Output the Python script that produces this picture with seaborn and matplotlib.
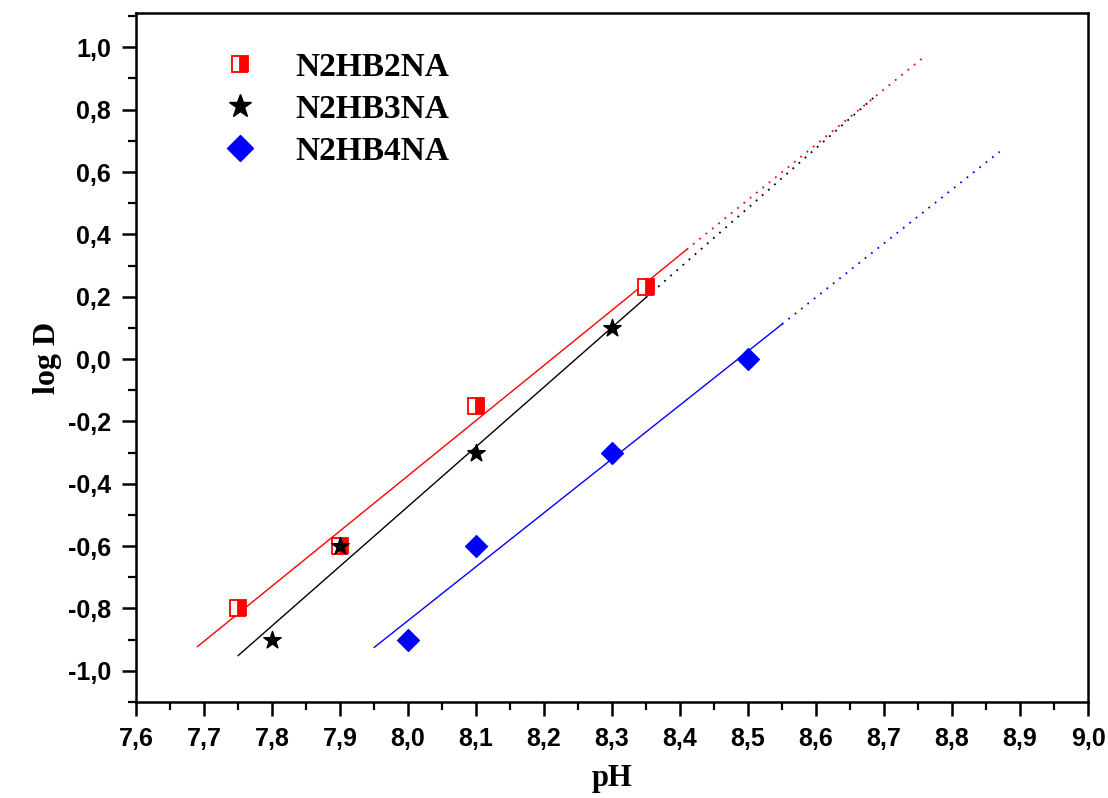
import numpy as np
import pandas as pd
import matplotlib
matplotlib.use("Agg")
import matplotlib.pyplot as plt
from matplotlib.lines import Line2D
from matplotlib.ticker import MultipleLocator, FuncFormatter
import seaborn as sns

# data
ph_b2 = [7.75, 7.90, 8.10, 8.35]
logd_b2 = [-0.80, -0.60, -0.15, 0.23]
ph_b3 = [7.80, 7.90, 8.10, 8.30]
logd_b3 = [-0.90, -0.60, -0.30, 0.10]
ph_b4 = [8.00, 8.10, 8.30, 8.50]
logd_b4 = [-0.90, -0.60, -0.30, 0.00]

# fit line ranges: solid part, then dotted extension
fit_b2 = [7.69, 8.41, 8.76]
fit_b3 = [7.75, 8.35, 8.69]
fit_b4 = [7.95, 8.55, 8.87]

names = ["N2HB2NA", "N2HB3NA", "N2HB4NA"]
colors = ["#ff0000", "#000000", "#0000ff"]

sns.set_style("ticks")
plt.rcParams["font.family"] = ["Liberation Sans", "DejaVu Sans"]
for key in ["text.color", "axes.labelcolor", "xtick.color", "ytick.color", "axes.edgecolor"]:
    plt.rcParams[key] = "black"

fig = plt.figure(figsize=(11.08, 7.98), dpi=100)
ax = fig.add_axes([0.1227, 0.1203, 0.8593, 0.8634])

series = [(ph_b2, logd_b2, fit_b2), (ph_b3, logd_b3, fit_b3), (ph_b4, logd_b4, fit_b4)]
for (x, y, rng), col in zip(series, colors):
    k, b = np.polyfit(x, y, 1)
    solid = pd.DataFrame({"x": rng[:2], "y": [k * v + b for v in rng[:2]]})
    dotted = pd.DataFrame({"x": rng[1:], "y": [k * v + b for v in rng[1:]]})
    sns.lineplot(data=solid, x="x", y="y", color=col, lw=1.0, ax=ax)
    sns.lineplot(data=dotted, x="x", y="y", color=col, lw=1.3,
                 linestyle=(0, (1, 3.5)), ax=ax)

# half filled squares
ax.plot(ph_b2, logd_b2, ls="none", marker="s", ms=11, fillstyle="right",
        markerfacecolor="#ff0000", markerfacecoloralt="white",
        markeredgecolor="#ff0000", markeredgewidth=1.3, zorder=5)
sns.scatterplot(x=ph_b3, y=logd_b3, marker="*", s=170, color="black",
                edgecolor="black", ax=ax, zorder=5)
sns.scatterplot(x=ph_b4, y=logd_b4, marker="D", s=125, color="#0000ff",
                edgecolor="#0000ff", ax=ax, zorder=5)

ax.set_xlim(7.6, 9.0)
ax.set_ylim(-1.1, 1.11)
ax.xaxis.set_major_locator(MultipleLocator(0.1))
ax.xaxis.set_minor_locator(MultipleLocator(0.05))
ax.yaxis.set_major_locator(MultipleLocator(0.2))
ax.yaxis.set_minor_locator(MultipleLocator(0.1))
comma = FuncFormatter(lambda v, p: f"{v:.1f}".replace(".", ",").replace("-0,0", "0,0"))
ax.xaxis.set_major_formatter(comma)
ax.yaxis.set_major_formatter(comma)
ax.tick_params(which="major", length=10, width=1.8, labelsize=18, direction="out", pad=8)
ax.tick_params(which="minor", length=6, width=1.6, direction="out")
for lab in ax.get_xticklabels() + ax.get_yticklabels():
    lab.set_fontweight("bold")
for sp in ax.spines.values():
    sp.set_linewidth(1.8)

ax.set_xlabel("pH", fontsize=22, fontweight="bold", family=["Liberation Serif"], labelpad=9)
ax.set_ylabel("log D", fontsize=23, fontweight="bold", family=["Liberation Serif"], labelpad=4)

handles = [
    Line2D([], [], ls="none", marker="s", ms=12, fillstyle="right",
           markerfacecolor="#ff0000", markerfacecoloralt="white",
           markeredgecolor="#ff0000", markeredgewidth=1.3),
    Line2D([], [], ls="none", marker="*", ms=17, color="black"),
    Line2D([], [], ls="none", marker="D", ms=13, color="#0000ff"),
]
leg = ax.legend(handles, names, loc="upper left", bbox_to_anchor=(0.06, 0.963),
                borderaxespad=0, frameon=False, handlelength=2.0,
                handletextpad=0.66, labelspacing=0.33,
                prop={"family": "Liberation Serif", "weight": "bold", "size": 24})

fig.savefig("out.png", dpi=100)
